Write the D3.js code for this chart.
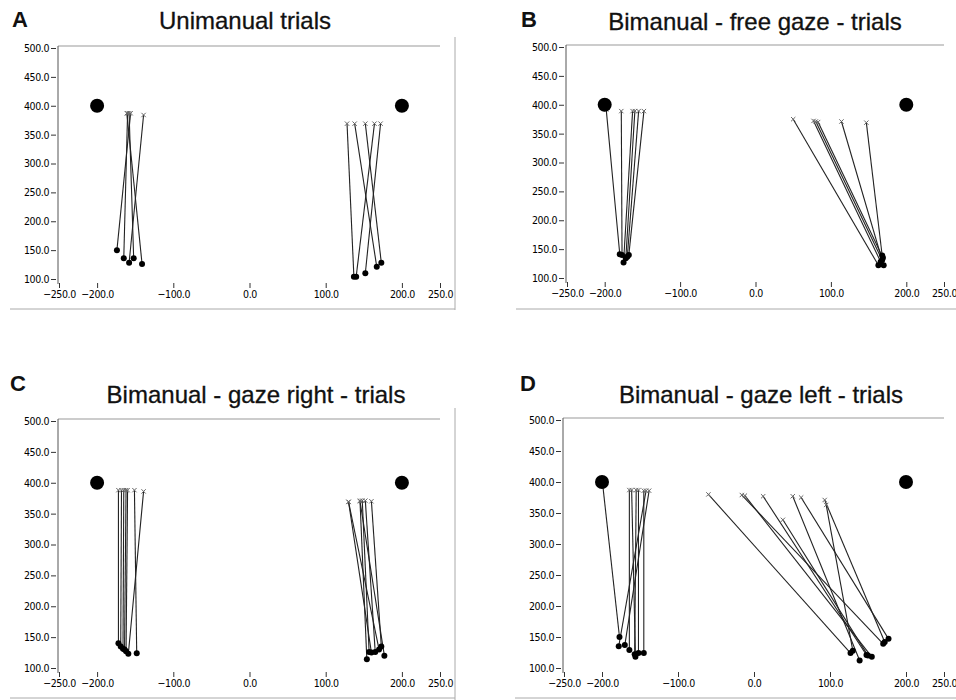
<!DOCTYPE html>
<html lang="en">
<head>
  <meta charset="UTF-8">
  <title>Trials</title>
  <style type="text/css" media="all">
    body { margin: 0; background: #fff; }
    .tick text { font-family: "DejaVu Sans Condensed", "DejaVu Sans", sans-serif; font-size: 10.5px; fill: #000; letter-spacing: -0.4px; }
    .title { font-family: "Liberation Sans", Arial, sans-serif; font-size: 24px; fill: #111; stroke: #111; stroke-width: 0.3px; }
    .label { font-family: "Liberation Sans", Arial, sans-serif; font-size: 22px; font-weight: bold; fill: #111; }
  </style>
</head>
<body>
  <div id="graph"></div>
  <script src="https://cdn.jsdelivr.net/npm/d3@7"></script>
  <script>
    // axis ticks and target positions (same for all panels)
    var xTicks = [-250, -200, -100, 0, 100, 200, 250];
    var yTicks = [100, 150, 200, 250, 300, 350, 400, 450, 500];
    var targets = [[-200, 400], [200, 400]];

    // each trial: [startX, startY, endX, endY]
    var unimanual = [
      [-174, 150, -156, 387], [-165, 136, -160, 387], [-158, 128, -139, 384],
      [-152, 136, -158, 387], [-141, 126, -161, 387],
      [137, 104, 128, 369], [140, 104, 164, 369], [152, 110, 172, 369],
      [167, 121, 138, 369], [173, 128, 152, 369]
    ];
    var freeGaze = [
      [-180, 141, -198, 392], [-177, 140, -178, 389], [-175, 127, -163, 389],
      [-172, 134, -160, 389], [-170, 137, -155, 389], [-168, 140, -148, 389],
      [163, 122, 50, 375], [166, 128, 77, 372], [168, 131, 80, 371],
      [169, 135, 83, 370], [170, 122, 114, 371], [168, 139, 147, 369]
    ];
    var gazeRight = [
      [-172, 140, -172, 388], [-169, 135, -168, 388], [-166, 131, -165, 388],
      [-164, 130, -162, 388], [-162, 127, -160, 388], [-159, 123, -139, 386],
      [-148, 124, -151, 388],
      [154, 114, 145, 371], [157, 126, 148, 371], [160, 125, 130, 369],
      [165, 126, 152, 371], [170, 130, 130, 369], [173, 135, 160, 370],
      [177, 120, 145, 370]
    ];
    var gazeLeft = [
      [-177, 150, -199, 395], [-178, 135, -142, 386], [-170, 137, -138, 386],
      [-164, 129, -164, 387], [-156, 118, -161, 387], [-152, 124, -152, 387],
      [-145, 124, -145, 386], [-157, 122, -155, 387],
      [127, 124, -60, 380], [170, 139, -16, 379], [155, 118, -12, 378],
      [148, 121, 12, 377], [139, 112, 51, 377], [177, 147, 62, 375],
      [130, 128, 95, 363], [172, 142, 93, 371], [150, 120, 38, 339]
    ];

    var panels = [
      { label: 'A', title: 'Unimanual trials', trials: unimanual,
        x: [59, 440], y: [279, 48], labelX: 12, labelY: 27, titleX: 245, titleY: 29,
        right: [455, 37, 310], bottom: [10, 455, 309] },
      { label: 'B', title: 'Bimanual - free gaze - trials', trials: freeGaze,
        x: [567, 944], y: [278, 47], labelX: 521, labelY: 27, titleX: 755, titleY: 30,
        right: null, bottom: [516, 956, 309] },
      { label: 'C', title: 'Bimanual - gaze right - trials', trials: gazeRight,
        x: [59, 440], y: [668, 421], labelX: 10, labelY: 391, titleX: 256, titleY: 403,
        right: [455, 408, 700], bottom: [10, 455, 698] },
      { label: 'D', title: 'Bimanual - gaze left - trials', trials: gazeLeft,
        x: [564, 944], y: [668, 420], labelX: 520, labelY: 391, titleX: 761, titleY: 403,
        right: null, bottom: [515, 956, 698] }
    ];

    var svg = d3.select('#graph').append('svg')
        .attr('width', 956)
        .attr('height', 700);

    var fmt = d3.format('.1f');

    panels.forEach(function(p) {
      var x = d3.scaleLinear().domain([-250, 250]).range(p.x),
          y = d3.scaleLinear().domain([100, 500]).range(p.y),
          g = svg.append('g');

      // frame lines
      g.append('line')
          .attr('x1', x(-250) - 1).attr('x2', x(250))
          .attr('y1', y(500) - 2).attr('y2', y(500) - 2)
          .attr('stroke', '#999');
      if (p.right) {
        g.append('line')
            .attr('x1', p.right[0]).attr('x2', p.right[0])
            .attr('y1', p.right[1]).attr('y2', p.right[2])
            .attr('stroke', '#aaa');
      }
      g.append('line')
          .attr('x1', p.bottom[0]).attr('x2', p.bottom[1])
          .attr('y1', p.bottom[2]).attr('y2', p.bottom[2])
          .attr('stroke', '#aaa');

      // y axis
      var yAxis = g.append('g')
          .attr('transform', 'translate(' + (x(-250) - 1) + ',0)')
          .call(d3.axisLeft(y).tickValues(yTicks).tickFormat(fmt).tickSize(7).tickSizeOuter(0).tickPadding(2));
      yAxis.select('.domain').remove();
      yAxis.selectAll('.tick line').attr('x1', -2).attr('stroke', '#333');
      g.append('line')
          .attr('x1', x(-250) - 1).attr('x2', x(-250) - 1)
          .attr('y1', y(500) - 2).attr('y2', y(100) + 5)
          .attr('stroke', '#555');

      // x axis
      var xAxis = g.append('g')
          .attr('transform', 'translate(0,' + (y(100) + 4) + ')')
          .call(d3.axisBottom(x).tickValues(xTicks).tickFormat(fmt).tickSize(5).tickSizeOuter(0).tickPadding(3));
      xAxis.select('.domain').remove();
      xAxis.selectAll('.tick line').attr('stroke', '#333');

      // trials
      g.selectAll('.trial').data(p.trials).enter().append('line')
          .attr('class', 'trial')
          .attr('x1', function(d) { return x(d[0]); })
          .attr('y1', function(d) { return y(d[1]); })
          .attr('x2', function(d) { return x(d[2]); })
          .attr('y2', function(d) { return y(d[3]); })
          .attr('stroke', '#222')
          .attr('stroke-width', 1.1);

      g.selectAll('.end').data(p.trials).enter().append('path')
          .attr('class', 'end')
          .attr('d', d3.symbol(d3.symbolX, 14))
          .attr('transform', function(d) { return 'translate(' + x(d[2]) + ',' + y(d[3]) + ')'; })
          .attr('fill', 'none')
          .attr('stroke', '#666');

      g.selectAll('.start').data(p.trials).enter().append('circle')
          .attr('class', 'start')
          .attr('cx', function(d) { return x(d[0]); })
          .attr('cy', function(d) { return y(d[1]); })
          .attr('r', 3)
          .attr('fill', '#000');

      g.selectAll('.target').data(targets).enter().append('circle')
          .attr('class', 'target')
          .attr('cx', function(d) { return x(d[0]); })
          .attr('cy', function(d) { return y(d[1]); })
          .attr('r', 7)
          .attr('fill', '#000');

      // titles
      g.append('text').attr('class', 'label')
          .attr('x', p.labelX).attr('y', p.labelY).text(p.label);
      g.append('text').attr('class', 'title')
          .attr('x', p.titleX).attr('y', p.titleY)
          .attr('text-anchor', 'middle').text(p.title);
    });
  </script>
</body>
</html>
